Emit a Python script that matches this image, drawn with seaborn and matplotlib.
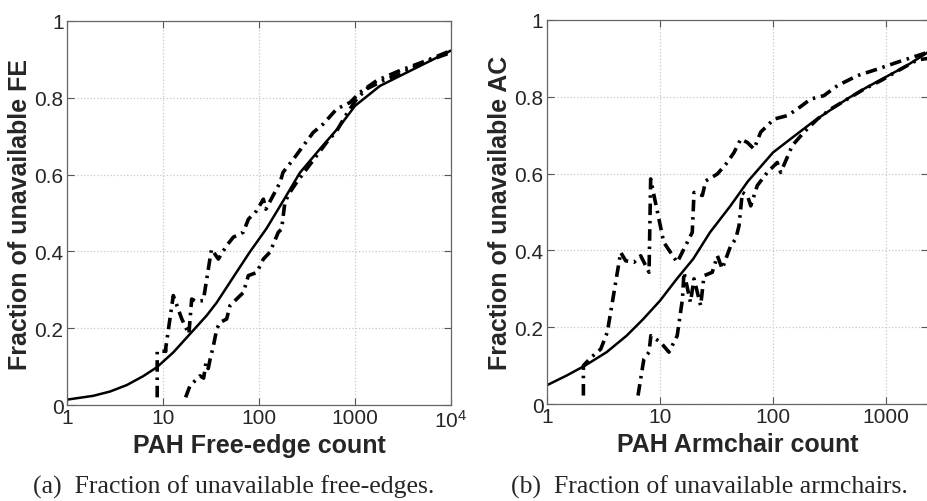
import matplotlib
matplotlib.use("Agg")
import matplotlib.pyplot as plt
import seaborn as sns

# --- data ---
# (a) free edges
fe_fit_x = [1, 1.88, 2.8, 4.2, 6.2, 8.6, 12.8, 19.1, 28.5, 36.3, 54, 80, 120, 179, 267, 432, 698, 1000,
            1820, 3740, 10000]
fe_fit_y = [0.014, 0.024, 0.035, 0.052, 0.075, 0.098, 0.137, 0.185, 0.233, 0.267, 0.333, 0.398, 0.46,
            0.532, 0.605, 0.667, 0.727, 0.779, 0.831, 0.87, 0.923]

fe_hi_x = [8.7, 8.7, 10.7, 10.7, 12.8, 15.7, 18.6, 19.9, 22, 26.3, 32, 37.7, 46, 54, 68.6, 77.6, 94.6, 111,
           118, 166, 178, 228, 289, 368, 468, 645, 890, 1125, 1690, 2940, 5580, 10000]
fe_hi_y = [0.02, 0.14, 0.14, 0.15, 0.285, 0.224, 0.185, 0.276, 0.27, 0.272, 0.406, 0.38, 0.415, 0.437, 0.45,
           0.484, 0.506, 0.536, 0.51, 0.58, 0.606, 0.64, 0.675, 0.71, 0.732, 0.771, 0.788, 0.814, 0.845,
           0.871, 0.897, 0.923]

fe_lo_x = [17.2, 19.1, 24.3, 26.5, 28, 29.6, 31, 33.5, 36.3, 39.3, 46, 49.9, 58.5, 68.7, 77.5, 94.6, 111, 130,
           159, 172, 186, 210, 247, 314, 398, 507, 645, 819, 1040, 1320, 1970, 2940, 5140, 10000]
fe_lo_y = [0.02, 0.05, 0.076, 0.07, 0.11, 0.095, 0.12, 0.154, 0.198, 0.215, 0.224, 0.259, 0.276, 0.293,
           0.337, 0.345, 0.38, 0.398, 0.45, 0.458, 0.528, 0.554, 0.58, 0.615, 0.649, 0.684, 0.714, 0.758,
           0.797, 0.823, 0.845, 0.862, 0.892, 0.918]

# (b) armchairs
ac_fit_x = [1, 1.49, 2.17, 3.37, 5.07, 7.1, 10, 14.1, 19.7, 27.7, 42, 60, 100, 150, 231, 320, 455, 650,
            1000, 1500, 2350]
ac_fit_y = [0.049, 0.074, 0.1, 0.135, 0.178, 0.221, 0.269, 0.326, 0.378, 0.447, 0.516, 0.58, 0.655, 0.695,
            0.737, 0.765, 0.795, 0.822, 0.852, 0.88, 0.916]

ac_hi_x = [2.1, 2.1, 2.43, 2.99, 3.42, 3.92, 4.49, 4.97, 5.89, 6.75, 8.0, 8.27, 8.85, 10.8, 14.2, 16.3, 19.3,
           20, 23.7, 25.4, 32.2, 39.4, 45.2, 51.8, 59.3, 67.9, 77.8, 102, 134, 164, 215, 282, 371, 557, 837,
           1260, 1890, 2350]
ac_hi_y = [0.022, 0.1, 0.12, 0.143, 0.187, 0.291, 0.395, 0.373, 0.369, 0.386, 0.343, 0.586, 0.543, 0.421,
           0.369, 0.404, 0.447, 0.551, 0.543, 0.581, 0.599, 0.629, 0.655, 0.69, 0.681, 0.664, 0.708, 0.742,
           0.751, 0.768, 0.794, 0.803, 0.829, 0.855, 0.872, 0.89, 0.907, 0.916]

ac_lo_x = [6.39, 7.2, 8.0, 8.3, 10.1, 12, 14.2, 15.8, 16.3, 18.6, 20, 22.9, 24.5, 29, 32.2, 35.5, 42.2, 46.8,
           50, 53.5, 59.3, 63.5, 72.6, 89, 109, 117, 148, 188, 247, 324, 455, 638, 898, 1260, 1890, 2350]
ac_lo_y = [0.022, 0.117, 0.135, 0.178, 0.161, 0.135, 0.178, 0.273, 0.343, 0.265, 0.326, 0.256, 0.334, 0.343,
           0.386, 0.352, 0.412, 0.43, 0.464, 0.551, 0.543, 0.516, 0.569, 0.603, 0.629, 0.603, 0.673, 0.708,
           0.742, 0.768, 0.794, 0.82, 0.842, 0.867, 0.896, 0.9]

y_ticks = [0, 0.2, 0.4, 0.6, 0.8, 1]
y_ticklabels = ["0", "0.2", "0.4", "0.6", "0.8", "1"]
fe_xticks = [1, 10, 100, 1000, 10000]
fe_xticklabels = ["1", "10", "100", "1000", r"$\mathregular{10^4}$"]
ac_xticks = [1, 10, 100, 1000]
ac_xticklabels = ["1", "10", "100", "1000"]

# --- style ---
sns.set_style("ticks")
plt.rcParams["font.family"] = ["Liberation Sans", "DejaVu Sans"]
plt.rcParams["mathtext.fontset"] = "custom"
plt.rcParams["mathtext.rm"] = "Liberation Sans"
plt.rcParams["xtick.direction"] = "in"
plt.rcParams["ytick.direction"] = "in"

fig = plt.figure(figsize=(9.28, 5.02), dpi=100)
ax1 = fig.add_axes([0.0722, 0.1912, 0.4138, 0.765])
ax2 = fig.add_axes([0.5894, 0.1932, 0.4106, 0.765])

dashdot = (0, (3.2, 1.6, 0.7, 1.6))


def panel(ax, fit, hi, lo, xmax, xticks, xticklabels, xlabel, ylabel):
    sns.lineplot(x=fit[0], y=fit[1], ax=ax, color="black", linewidth=1.8,
                 estimator=None, sort=False)
    for xs, ys in (hi, lo):
        sns.lineplot(x=xs, y=ys, ax=ax, color="black", linewidth=2.6, linestyle=dashdot,
                     estimator=None, sort=False)
    ax.set_xscale("log")
    ax.set_xlim(1, xmax)
    ax.set_ylim(0, 1)
    ax.set_xticks(xticks)
    ax.set_xticklabels(xticklabels)
    ax.set_yticks(y_ticks)
    ax.set_yticklabels(y_ticklabels)
    ax.minorticks_off()
    ax.tick_params(axis="both", which="major", labelsize=15, length=5, width=0.8,
                   top=True, right=True, color="#555555", pad=2.5)
    ax.grid(True, linestyle=":", color="#c8c8c8", linewidth=0.9)
    for s in ax.spines.values():
        s.set_color("#666666")
        s.set_linewidth(0.9)
    ax.set_xlabel(xlabel, fontsize=18, fontweight="bold")
    ax.set_ylabel(ylabel, fontsize=18, fontweight="bold")
    ax.xaxis.set_label_coords(0.5, -0.072)
    ax.yaxis.set_label_coords(-0.092, 0.5)


panel(ax1, (fe_fit_x, fe_fit_y), (fe_hi_x, fe_hi_y), (fe_lo_x, fe_lo_y), 10000,
      fe_xticks, fe_xticklabels, "PAH Free-edge count", "Fraction of unavailable FE")
panel(ax2, (ac_fit_x, ac_fit_y), (ac_hi_x, ac_hi_y), (ac_lo_x, ac_lo_y), 2350,
      ac_xticks, ac_xticklabels, "PAH Armchair count", "Fraction of unavailable AC")

fig.text(234 / 928, 1 - 487 / 502, "(a)  Fraction of unavailable free-edges.",
         family="Liberation Serif", fontsize=18.5, ha="center", va="center")
fig.text(709 / 928, 1 - 487 / 502, "(b)  Fraction of unavailable armchairs.",
         family="Liberation Serif", fontsize=18.5, ha="center", va="center")

fig.savefig("out.png", dpi=100)
